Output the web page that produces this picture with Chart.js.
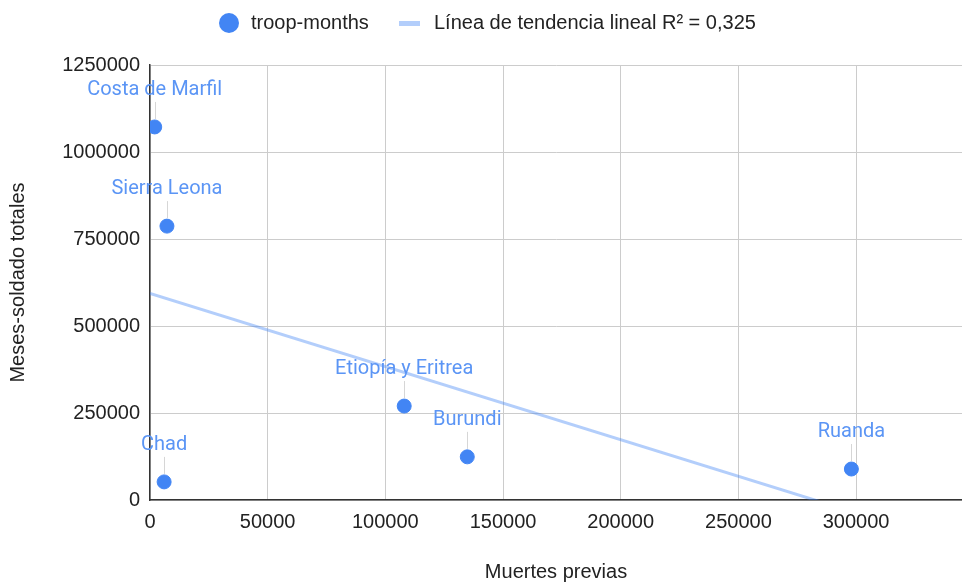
<!DOCTYPE html>
<html>
<head>
<meta charset="utf-8">
<script src="https://cdn.jsdelivr.net/npm/chart.js@4"></script>
<style>
  html, body { margin: 0; padding: 0; background: #fff; }
  #wrap { width: 962px; height: 586px; }
</style>
</head>
<body>
<div id="wrap"><canvas id="c" width="962" height="586"></canvas></div>
<script>
const countries = ['Costa de Marfil', 'Sierra Leona', 'Etiopía y Eritrea', 'Burundi', 'Chad', 'Ruanda']
const priorDeaths = [2000, 7200, 108000, 134800, 6000, 298000]
const troopMonths = [1072000, 787000, 270000, 124000, 52000, 89000]
const xTicks = [0, 50000, 100000, 150000, 200000, 250000, 300000]
const yTicks = [0, 250000, 500000, 750000, 1000000, 1250000]
const legendLabels = ['troop-months', 'Línea de tendencia lineal R² = 0,325']

const BLUE = '#4285f4'
const TREND = 'rgba(66,133,244,0.4)'
const LABEL_FONT = 'Roboto'
const AXIS_FONT = '"Liberation Sans", Arial, sans-serif'

// least squares fit for the trend line
function linearFit(xs, ys) {
  const n = xs.length
  const mx = xs.reduce((a, b) => a + b, 0) / n
  const my = ys.reduce((a, b) => a + b, 0) / n
  let sxy = 0, sxx = 0
  for (let i = 0; i < n; i++) {
    sxy += (xs[i] - mx) * (ys[i] - my)
    sxx += (xs[i] - mx) ** 2
  }
  const slope = sxy / sxx
  return { slope, intercept: my - slope * mx }
}
const fit = linearFit(priorDeaths, troopMonths)
const xMax = 345000
const trendPoints = [0, xMax].map(x => ({ x, y: fit.intercept + fit.slope * x }))

const pointLabels = {
  id: 'pointLabels',
  afterDatasetsDraw(chart) {
    const { ctx } = chart
    const meta = chart.getDatasetMeta(0)
    ctx.save()
    ctx.font = `20px ${LABEL_FONT}`
    ctx.textAlign = 'center'
    ctx.textBaseline = 'middle'
    meta.data.forEach((pt, i) => {
      ctx.strokeStyle = '#d6d6d6'
      ctx.lineWidth = 1
      ctx.beginPath()
      ctx.moveTo(Math.round(pt.x) + 0.5, pt.y - 8)
      ctx.lineTo(Math.round(pt.x) + 0.5, pt.y - 25)
      ctx.stroke()
      ctx.fillStyle = '#5b95f5'
      ctx.fillText(countries[i], pt.x, pt.y - 37)
    })
    ctx.restore()
  }
}

const legendPlugin = {
  id: 'topLegend',
  afterDraw(chart) {
    const { ctx } = chart
    ctx.save()
    ctx.fillStyle = BLUE
    ctx.beginPath()
    ctx.arc(229, 23, 10, 0, Math.PI * 2)
    ctx.fill()
    ctx.fillStyle = TREND
    ctx.fillRect(399, 21, 21, 5)
    ctx.font = `20px ${AXIS_FONT}`
    ctx.fillStyle = '#222'
    ctx.textBaseline = 'middle'
    ctx.textAlign = 'left'
    ctx.fillText(legendLabels[0], 251, 23)
    ctx.fillText(legendLabels[1], 434, 23)
    ctx.restore()
  }
}

new Chart(document.getElementById('c'), {
  type: 'scatter',
  data: {
    datasets: [
      {
        label: legendLabels[0],
        data: priorDeaths.map((x, i) => ({ x, y: troopMonths[i] })),
        backgroundColor: BLUE,
        borderColor: BLUE,
        pointRadius: 7,
        pointHoverRadius: 7,
        order: 1,
      },
      {
        label: legendLabels[1],
        type: 'line',
        data: trendPoints,
        borderColor: TREND,
        borderWidth: 3,
        pointRadius: 0,
        fill: false,
        order: 2,
      }
    ]
  },
  options: {
    responsive: false,
    animation: false,
    layout: { autoPadding: false, padding: { top: 65, right: 0, left: 0, bottom: 0 } },
    plugins: {
      legend: { display: false },
      tooltip: { enabled: false },
    },
    scales: {
      x: {
        type: 'linear',
        min: 0,
        max: xMax,
        afterBuildTicks: axis => { axis.ticks = xTicks.map(v => ({ value: v })) },
        afterFit: s => { s.height = 86; s.paddingRight = 0; s.paddingLeft = 0 },
        grid: { color: '#cccccc', lineWidth: 1, drawTicks: false },
        border: { color: '#333', width: 1.5 },
        ticks: {
          color: '#222', font: { family: AXIS_FONT, size: 20 }, padding: 10, maxRotation: 0,
          callback: v => String(v),
        },
        title: {
          display: true,
          text: 'Muertes previas',
          color: '#222',
          font: { family: AXIS_FONT, size: 20 },
          padding: { top: 0, bottom: 2 },
        },
      },
      y: {
        type: 'linear',
        min: 0,
        max: 1250000,
        afterBuildTicks: axis => { axis.ticks = yTicks.map(v => ({ value: v })) },
        afterFit: s => { s.width = 150 },
        grid: { color: '#cccccc', lineWidth: 1, drawTicks: false },
        border: { color: '#333', width: 1.5 },
        ticks: {
          color: '#222', font: { family: AXIS_FONT, size: 20 }, padding: 10,
          callback: v => String(v),
        },
        title: {
          display: true,
          text: 'Meses-soldado totales',
          color: '#222',
          font: { family: AXIS_FONT, size: 20 },
          padding: { top: 6, bottom: 0 },
        },
      }
    }
  },
  plugins: [pointLabels, legendPlugin]
})
</script>
</body>
</html>
